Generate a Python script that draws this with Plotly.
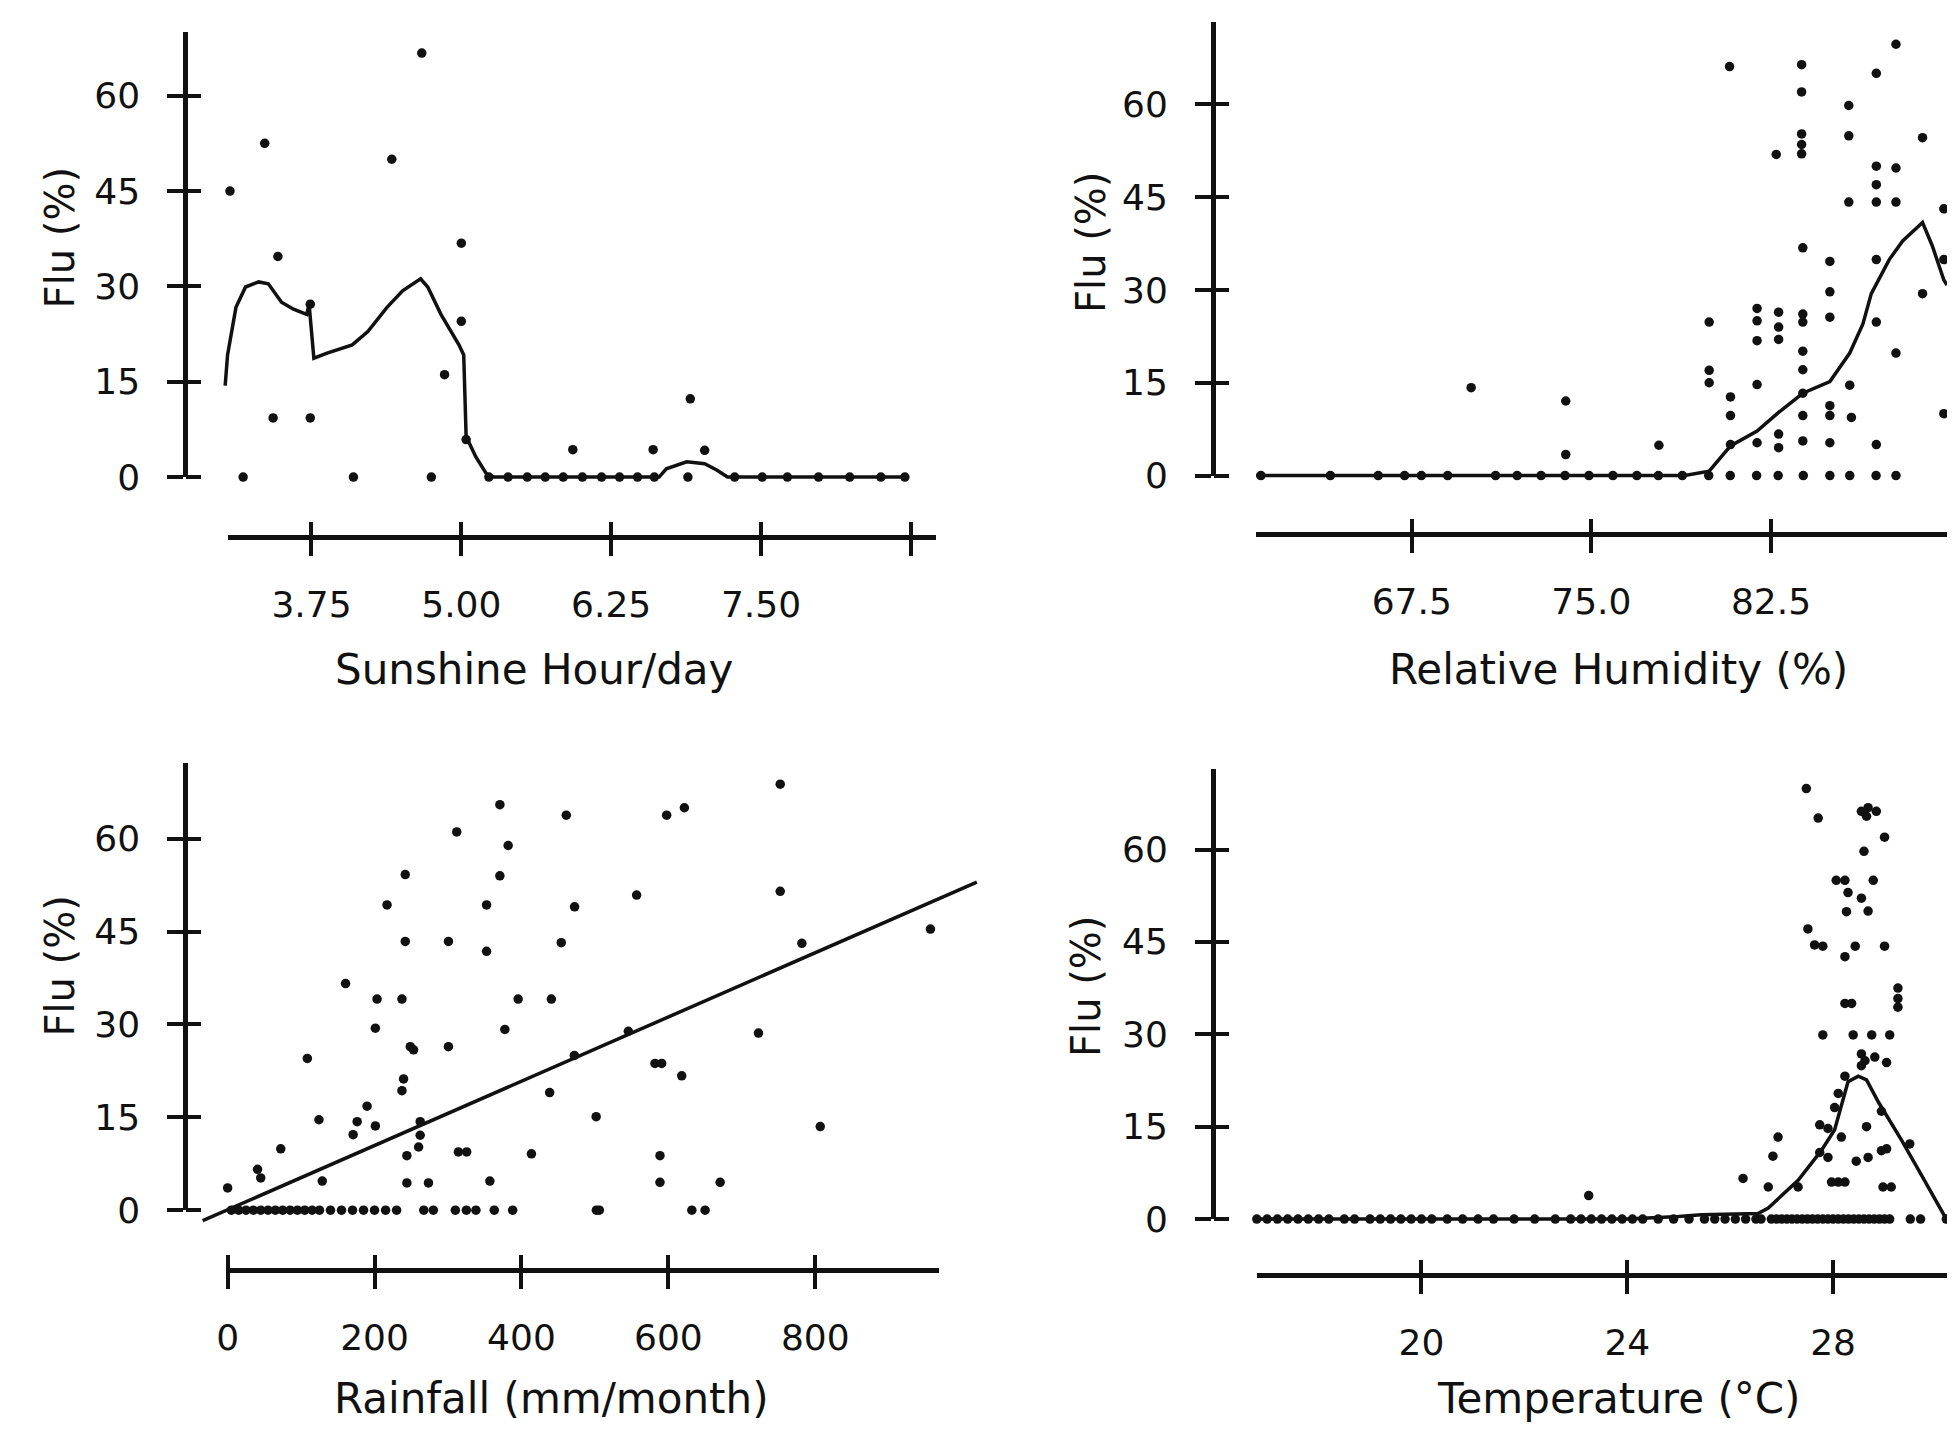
import plotly.graph_objects as go

W, H = 1955, 1452          # browser window
OFF = 8                    # default body margin of the html page
FW, FH = W - 2 * OFF, H - 2 * OFF

# ---------------- data ----------------
# Panel 1: sunshine hour/day vs flu (%)
sun_hours = [3.07, 3.36, 3.47, 3.18, 3.43, 3.74, 3.74, 4.10, 4.42, 4.67, 4.75, 5.00, 5.00, 4.86, 5.04,
             5.93, 6.60, 6.91, 7.03, 6.89,
             5.23, 5.39, 5.55, 5.70, 5.85, 6.01, 6.17, 6.32, 6.47, 6.61,
             7.28, 7.51, 7.72, 7.98, 8.24, 8.50, 8.70]
sun_flu = [45.0, 52.5, 34.7, 0, 9.3, 9.3, 27.2, 0, 50.0, 66.7, 0, 36.8, 24.5, 16.1, 5.9,
           4.3, 4.3, 12.3, 4.2, 0,
           0, 0, 0, 0, 0, 0, 0, 0, 0, 0,
           0, 0, 0, 0, 0, 0, 0]
sun_fit_x = [3.03, 3.05, 3.12, 3.20, 3.31, 3.39, 3.50, 3.60, 3.71, 3.73, 3.77, 3.88, 4.09, 4.22, 4.38,
             4.51, 4.66, 4.72, 4.83, 4.98, 5.02, 5.04, 5.12, 5.21, 5.27, 6.65, 6.71, 6.88, 7.03, 7.13,
             7.22, 8.70]
sun_fit_y = [14.4, 19.2, 26.7, 29.9, 30.7, 30.4, 27.5, 26.4, 25.6, 27.2, 18.7, 19.5, 20.8, 22.9, 26.7,
             29.3, 31.2, 29.9, 25.6, 20.8, 19.2, 6.4, 3.2, 0.5, 0.0, 0.0, 1.3, 2.4, 2.1, 1.1,
             0.0, 0.0]

# Panel 2: relative humidity (%) vs flu (%)
hum_pct = [61.2, 64.1, 66.1, 67.2, 67.9, 69.0, 71.0, 71.9, 72.9, 73.9, 74.9, 75.9, 76.9, 77.8, 78.8,
           79.9, 80.8, 81.9, 82.8, 83.85, 84.96, 85.79, 86.89, 87.72,
           69.98, 73.93, 73.93, 77.82,
           79.92, 79.92, 79.92,
           80.81, 80.81, 80.81, 80.77,
           81.92, 81.92, 81.92, 81.92, 81.92,
           82.82, 82.82, 82.82, 82.82, 82.82, 82.72,
           83.78, 83.78, 83.78, 83.78, 83.78, 83.83, 83.83, 83.83, 83.83, 83.83, 83.83, 83.83, 83.83,
           84.96, 84.96, 84.96, 84.96, 84.96, 84.96,
           85.75, 85.75, 85.75, 85.79, 85.86,
           86.9, 86.9, 86.9, 86.9, 86.9, 86.9, 86.9,
           87.72, 87.72, 87.72, 87.72,
           88.83, 88.83,
           89.72, 89.72, 89.72]
hum_flu = [0, 0, 0, 0, 0, 0, 0, 0, 0, 0, 0, 0, 0, 0, 0,
           0, 0, 0, 0, 0, 0, 0, 0, 0,
           14.2, 12.05, 3.4, 4.9,
           24.8, 17.0, 15.0,
           12.7, 9.7, 5.0, 66.1,
           27.0, 25.0, 21.8, 14.7, 5.3,
           26.4, 24.0, 22.0, 6.7, 4.5, 51.9,
           66.4, 62.0, 55.2, 53.5, 52.0, 36.8, 26.1, 24.8, 20.1, 17.1, 13.3, 9.7, 5.6,
           34.6, 29.7, 25.6, 11.3, 9.7, 5.3,
           59.8, 54.9, 44.2, 14.6, 9.4,
           65.0, 50.0, 47.0, 44.2, 34.9, 24.8, 5.0,
           69.7, 49.7, 44.2, 19.8,
           54.6, 29.4,
           43.1, 34.9, 10.0]
hum_fit_x = [61.0, 77.5, 78.9, 79.92, 80.81, 81.92, 82.82, 83.83, 84.96, 85.79, 86.34, 86.69, 87.44,
             88.0, 88.83, 89.24, 89.72, 89.85]
hum_fit_y = [0.0, 0.0, 0.0, 0.7, 4.8, 7.2, 10.2, 13.3, 15.2, 19.8, 24.5, 29.4, 34.9,
             37.9, 40.9, 37.1, 31.6, 30.8]

# Panel 3: rainfall (mm/month) vs flu (%)
rain_mm = [0, 40.7, 45, 72.3, 108.5, 124.3, 128.8, 160.5, 189.8, 176.3, 170.8, 201.1, 203.4, 237.3,
           201.1, 217, 241.8, 241.8, 248.6, 253.1, 239.5, 237.3, 262.1, 262.1, 260, 244, 244, 273.4,
           300.6, 300.6, 311.9, 314.1, 325.4, 352.5, 352.5, 370.6, 370.6, 381.9, 377.4, 357, 395.5,
           413.6, 438.4, 440.7, 454.2, 461, 472.3, 472, 501.7,
           556.8, 545.5, 581.8, 590.9, 618.2, 597.7, 621.8, 588.6, 588.6, 670.5, 722.7, 752.3, 752.3,
           781.8, 806.8, 956.8,
           5, 15, 25, 35, 45, 55, 65, 75, 85, 95, 105, 115, 125, 140, 155, 170, 185, 200, 215, 230,
           267, 280, 310, 325, 338, 363, 388, 502, 506, 632, 650]
rain_flu = [3.6, 6.6, 5.2, 9.9, 24.5, 14.6, 4.7, 36.6, 16.8, 14.3, 12.2, 13.6, 34.1, 34.1,
            29.4, 49.3, 54.2, 43.4, 26.4, 25.9, 21.2, 19.3, 14.3, 12.1, 10.2, 8.8, 4.4, 4.4,
            43.4, 26.4, 61.1, 9.4, 9.4, 49.3, 41.8, 65.5, 54.0, 58.9, 29.2, 4.7, 34.1,
            9.1, 19.0, 34.1, 43.2, 63.8, 49.0, 25.0, 15.1,
            50.9, 28.9, 23.7, 23.7, 21.7, 63.8, 65.0, 8.8, 4.5, 4.5, 28.6, 68.8, 51.5,
            43.1, 13.5, 45.4,
            0, 0, 0, 0, 0, 0, 0, 0, 0, 0, 0, 0, 0, 0, 0, 0, 0, 0, 0, 0,
            0, 0, 0, 0, 0, 0, 0, 0, 0, 0, 0]
rain_fit_x = [-34, 1020]
rain_fit_y = [-1.7, 53.0]

# Panel 4: temperature (deg C) vs flu (%)
temp_c = [16.8, 17.0, 17.2, 17.4, 17.6, 17.8, 18.0, 18.2, 18.5, 18.7,
          19.0, 19.2, 19.4, 19.6, 19.8, 20.0, 20.2, 20.5, 20.8, 21.1,
          21.4, 21.8, 22.2, 22.6, 22.9, 23.1, 23.3, 23.5, 23.7, 23.9,
          24.1, 24.3, 24.6, 24.9, 25.2, 25.5, 25.7, 25.9, 26.1, 26.3,
          26.5, 26.6, 26.8, 26.9, 27.0, 27.1, 27.2, 27.3, 27.4, 27.5,
          27.6, 27.7, 27.8, 27.9, 28.0, 28.1, 28.2, 28.3, 28.4, 28.5,
          28.6, 28.7, 28.8, 28.9, 29.0, 29.1, 29.5, 29.7, 30.2,
          23.25,
          27.48, 27.71, 28.55, 28.68, 28.84, 28.65, 29.0, 28.6,
          28.06, 28.23, 28.78, 28.29, 28.55, 28.26, 28.68,
          27.51, 27.64, 27.8, 28.23, 28.43, 29.0,
          28.23, 28.36, 29.26, 29.26, 29.26,
          27.8, 28.39, 28.75, 29.1,
          28.55, 28.62, 28.81, 29.04, 28.55,
          28.23, 28.1, 28.03, 28.94, 27.74, 27.9, 28.16, 28.65, 29.49,
          26.93, 26.83, 27.74, 27.9, 28.45, 28.68, 28.94, 29.04,
          26.25, 26.74, 27.32, 27.97, 28.1, 28.23, 28.97, 29.13]
temp_flu = [0, 0, 0, 0, 0, 0, 0, 0, 0, 0,
            0, 0, 0, 0, 0, 0, 0, 0, 0, 0,
            0, 0, 0, 0, 0, 0, 0, 0, 0, 0,
            0, 0, 0, 0, 0, 0, 0, 0, 0, 0,
            0, 0, 0, 0, 0, 0, 0, 0, 0, 0,
            0, 0, 0, 0, 0, 0, 0, 0, 0, 0,
            0, 0, 0, 0, 0, 0, 0, 0, 0,
            3.8,
            69.9, 65.1, 66.2, 66.8, 66.2, 65.4, 62.0, 59.7,
            55.0, 55.0, 55.0, 53.0, 52.1, 49.9, 50.0,
            47.1, 44.5, 44.3, 42.6, 44.3, 44.3,
            35.0, 35.0, 37.5, 35.8, 34.4,
            29.9, 29.9, 29.9, 29.9,
            26.8, 25.7, 26.3, 25.4, 24.9,
            23.2, 20.4, 18.1, 17.5, 15.3, 14.7, 13.3, 15.0, 12.2,
            13.3, 10.2, 10.8, 10.0, 9.4, 10.0, 11.1, 11.4,
            6.6, 5.2, 5.2, 6.0, 6.0, 6.0, 5.2, 5.2]
temp_fit_x = [16.8, 24.0, 25.0, 25.44, 26.54, 26.74, 27.32, 27.77, 28.03, 28.29, 28.49, 28.65,
              28.88, 29.33, 29.72, 30.2]
temp_fit_y = [0.0, 0.0, 0.4, 0.7, 0.9, 1.8, 6.3, 11.1, 14.5, 22.3, 23.2, 22.6,
              19.0, 12.8, 7.1, 0.0]

# tick labels
flu_ticks = [0, 15, 30, 45, 60]
flu_tick_text = ["0", "15", "30", "45", "60"]
sun_ticks = [3.75, 5.00, 6.25, 7.50, 8.75]
sun_tick_text = ["3.75", "5.00", "6.25", "7.50", ""]
hum_ticks = [67.5, 75.0, 82.5, 90.0]
hum_tick_text = ["67.5", "75.0", "82.5", ""]
rain_ticks = [0, 200, 400, 600, 800]
rain_tick_text = ["0", "200", "400", "600", "800"]
temp_ticks = [20, 24, 28]
temp_tick_text = ["20", "24", "28"]

x_titles = ["Sunshine Hour/day", "Relative Humidity (%)", "Rainfall (mm/month)", "Temperature (°C)"]
y_title = "Flu (%)"

# ---------------- layout geometry (window pixels) ----------------
INK = "#111111"
FONT = "DejaVu Sans"

panels = [
    dict(x=sun_hours, y=sun_flu, fx=sun_fit_x, fy=sun_fit_y, xt=sun_ticks, xtt=sun_tick_text,
         xp0=303.0, xv0=3.75, xs=120.5, yp0=484.0, ys=6.45, ylx=176, xly=545,
         xr=(3.05, 8.96), ytop=70.0, dx=(2.9, 9.3), dy=(-4, 74),
         tpos=(527, 679), ypos=(50, 241)),
    dict(x=hum_pct, y=hum_flu, fx=hum_fit_x, fy=hum_fit_y, xt=hum_ticks, xtt=hum_tick_text,
         xp0=1409.0, xv0=67.5, xs=24.07, yp0=482.5, ys=6.28, ylx=1209, xly=542,
         xr=(61.0, None), ytop=73.3, dx=(60.0, None), dy=(-4, 76),
         tpos=(1617, 679), ypos=(1086, 246)),
    dict(x=rain_mm, y=rain_flu, fx=rain_fit_x, fy=rain_fit_y, xt=rain_ticks, xtt=rain_tick_text,
         xp0=218.75, xv0=0.0, xs=0.7383, yp0=1228.0, ys=6.283, ylx=176, xly=1289,
         xr=(-2, 969), ytop=72.3, dx=(-50, 1050), dy=(-5, 75),
         tpos=(544, 1419), ypos=(50, 980)),
    dict(x=temp_c, y=temp_flu, fx=temp_fit_x, fy=temp_fit_y, xt=temp_ticks, xtt=temp_tick_text,
         xp0=1418.75, xv0=20.0, xs=51.72, yp0=1237.0, ys=6.25, ylx=1209, xly=1294,
         xr=(16.8, None), ytop=73.0, dx=(16.4, None), dy=(-4, 76),
         tpos=(1617, 1419), ypos=(1082, 1001)),
]


def px_to_paper_x(px):
    return (px - OFF) / FW


def px_to_paper_y(py):
    return 1 - (py - OFF) / FH


def clamp01(v):
    return max(0.0, min(1.0, v))


fig = go.Figure()
layout = dict(width=FW, height=FH, autosize=False, margin=dict(l=0, r=0, t=0, b=0, pad=0),
              paper_bgcolor="white", plot_bgcolor="rgba(0,0,0,0)", showlegend=False,
              font=dict(family=FONT, color=INK))
annotations = []
right_px = W - OFF
top_px = OFF

for i, p in enumerate(panels):
    def xpx(v, p=p):
        return p["xp0"] + p["xs"] * (v - p["xv0"])

    def ypx(v, p=p):
        return p["yp0"] - p["ys"] * v

    edge_v = p["xv0"] + (right_px - p["xp0"]) / p["xs"]
    top_v = (p["yp0"] - top_px) / p["ys"]
    xr0, xr1 = p["xr"]
    xr1 = edge_v if xr1 is None else min(xr1, edge_v)
    dx0, dx1 = p["dx"]
    dx1 = edge_v if dx1 is None else min(dx1, edge_v)
    dy0, dy1 = p["dy"]
    dy1 = min(dy1, top_v)
    ytop = min(p["ytop"], top_v)

    n_data = i + 1
    n_frame = i + 5
    sx = "" if n_data == 1 else str(n_data)
    xpos = px_to_paper_y(p["xly"])
    ypos_paper = px_to_paper_x(p["ylx"])

    # data axes: carry the marks and the inner half of the cross ticks
    layout["xaxis" + sx] = dict(
        domain=[clamp01(px_to_paper_x(xpx(dx0))), clamp01(px_to_paper_x(xpx(dx1)))],
        range=[dx0, dx1],
        anchor="free", position=xpos, showline=False, showgrid=False, zeroline=False,
        ticks="inside", ticklen=15, tickwidth=3.5, tickcolor=INK,
        tickmode="array", tickvals=p["xt"], showticklabels=False, fixedrange=True)
    layout["yaxis" + sx] = dict(
        domain=[clamp01(px_to_paper_y(ypx(dy0))), clamp01(px_to_paper_y(ypx(dy1)))],
        range=[dy0, dy1],
        anchor="free", position=ypos_paper, side="left", showline=False, showgrid=False,
        zeroline=False, ticks="inside", ticklen=15, tickwidth=3.5, tickcolor=INK,
        tickmode="array", tickvals=flu_ticks, showticklabels=False, fixedrange=True)

    # frame axes: axis lines, outer ticks and tick labels
    layout["xaxis" + str(n_frame)] = dict(
        domain=[clamp01(px_to_paper_x(xpx(xr0))), clamp01(px_to_paper_x(xpx(xr1)))],
        range=[xr0, xr1],
        anchor="free", position=xpos, showline=True, linewidth=4.5, linecolor=INK,
        showgrid=False, zeroline=False, ticks="outside", ticklen=16, tickwidth=3.5, tickcolor=INK,
        tickmode="array", tickvals=p["xt"], ticktext=p["xtt"],
        tickfont=dict(family=FONT, size=36, color=INK), ticklabelstandoff=18, fixedrange=True)
    layout["yaxis" + str(n_frame)] = dict(
        domain=[clamp01(px_to_paper_y(ypx(0))), clamp01(px_to_paper_y(ypx(ytop)))],
        range=[0, ytop],
        anchor="free", position=ypos_paper, side="left", showline=True, linewidth=4.5,
        linecolor=INK, showgrid=False, zeroline=False, ticks="outside", ticklen=16,
        tickwidth=3.5, tickcolor=INK, tickmode="array", tickvals=flu_ticks,
        ticktext=flu_tick_text, tickfont=dict(family=FONT, size=36, color=INK),
        ticklabelstandoff=20, fixedrange=True)

    xa = "x" + sx
    ya = "y" + sx
    fig.add_trace(go.Scatter(x=p["fx"], y=p["fy"], mode="lines", xaxis=xa, yaxis=ya,
                             line=dict(color=INK, width=3.5), hoverinfo="skip"))
    fig.add_trace(go.Scatter(x=p["x"], y=p["y"], mode="markers", xaxis=xa, yaxis=ya,
                             marker=dict(color=INK, size=9.5, line=dict(width=0)),
                             cliponaxis=False))
    fig.add_trace(go.Scatter(x=[None], y=[None], mode="markers", xaxis="x" + str(n_frame),
                             yaxis="y" + str(n_frame), hoverinfo="skip"))

    annotations.append(dict(text=x_titles[i], x=px_to_paper_x(p["tpos"][0]),
                            y=px_to_paper_y(p["tpos"][1]),
                            xref="paper", yref="paper", xanchor="center", yanchor="middle",
                            showarrow=False, font=dict(family=FONT, size=42, color=INK)))
    annotations.append(dict(text=y_title, x=px_to_paper_x(p["ypos"][0]),
                            y=px_to_paper_y(p["ypos"][1]),
                            xref="paper", yref="paper", xanchor="center", yanchor="middle",
                            textangle=-90, showarrow=False,
                            font=dict(family=FONT, size=40, color=INK)))

layout["annotations"] = annotations
fig.update_layout(**layout)
fig.write_html("out.html")
